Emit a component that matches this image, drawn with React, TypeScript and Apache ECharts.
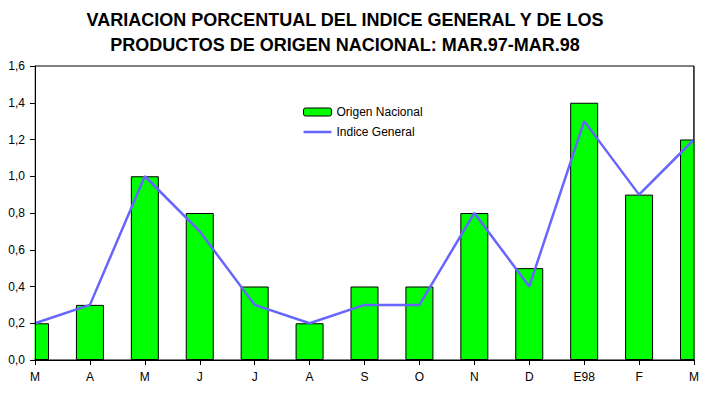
import React, { useEffect, useRef } from "react";
import * as echarts from "echarts";

const categories = ["M", "A", "M", "J", "J", "A", "S", "O", "N", "D", "E98", "F", "M"];
const origenNacional = [0.2, 0.3, 1.0, 0.8, 0.4, 0.2, 0.4, 0.4, 0.8, 0.5, 1.4, 0.9, 1.2];
const indiceGeneral = [0.2, 0.3, 1.0, 0.7, 0.3, 0.2, 0.3, 0.3, 0.8, 0.4, 1.3, 0.9, 1.2];
const titleLines = [
  "VARIACION PORCENTUAL DEL INDICE GENERAL Y DE LOS",
  "PRODUCTOS DE ORIGEN NACIONAL: MAR.97-MAR.98",
];

const FONT = "'Liberation Sans', Arial, sans-serif";

export default function App() {
  const ref = useRef<HTMLDivElement>(null);
  useEffect(() => {
    if (!ref.current) return;
    const chart = echarts.init(ref.current, null, { renderer: "svg" });
    const gLeft = 35, gRight = 18, gTop = 66, gBottom = 35, W = 712, H = 395;
    chart.setOption({
      animation: false,
      backgroundColor: "#ffffff",
      textStyle: { fontFamily: FONT },
      graphic: [
        ...titleLines.map((t, i) => ({
          type: "text",
          x: 345,
          y: 11 + i * 25,
          z: 10,
          style: {
            text: t,
            fill: "#000",
            font: `bold 18px ${FONT}`,
            textAlign: "center",
            textVerticalAlign: "top",
          },
        })),
        // mask bar overflow outside the plot area
        {
          type: "rect",
          z: 5,
          shape: { x: 0, y: gTop - 2, width: gLeft - 0.5, height: H - gTop - gBottom + 2 },
          style: { fill: "#ffffff" },
        },
        {
          type: "rect",
          z: 5,
          shape: { x: W - gRight + 0.5, y: gTop - 2, width: gRight, height: H - gTop - gBottom + 2 },
          style: { fill: "#ffffff" },
        },
        {
          type: "line",
          z: 6,
          shape: { x1: W - gRight, y1: gTop, x2: W - gRight, y2: H - gBottom },
          style: { stroke: "#000", lineWidth: 1 },
        },
      ],
      grid: {
        left: gLeft,
        right: gRight,
        top: gTop,
        bottom: gBottom,
        show: true,
        borderColor: "#000",
        borderWidth: 1,
        backgroundColor: "transparent",
      },
      legend: {
        orient: "vertical",
        left: 298,
        top: 101,
        itemWidth: 28,
        itemHeight: 8,
        itemGap: 8,
        textStyle: { fontSize: 12, color: "#000", fontFamily: FONT },
        data: [
          { name: "Origen Nacional", itemStyle: { color: "#00ff00", borderColor: "#000", borderWidth: 1 } },
          {
            name: "Indice General",
            icon: "path://M0,0 L28,0 L28,2.5 L0,2.5 Z",
            itemStyle: { color: "#6666ff", borderWidth: 0 },
          },
        ],
      },
      xAxis: {
        type: "category",
        data: categories,
        boundaryGap: false,
        z: 8,
        axisLine: { show: true, lineStyle: { color: "#000", width: 1 } },
        axisTick: { show: true, length: 5, lineStyle: { color: "#000" }, alignWithLabel: true },
        axisLabel: { color: "#000", fontSize: 12, margin: 11, interval: 0, fontFamily: FONT },
        splitLine: { show: false },
      },
      yAxis: {
        type: "value",
        min: 0,
        max: 1.6,
        interval: 0.2,
        z: 8,
        axisLine: { show: true, lineStyle: { color: "#000", width: 1 } },
        axisTick: { show: true, length: 5, lineStyle: { color: "#000" } },
        axisLabel: {
          color: "#000",
          fontSize: 12,
          margin: 10,
          fontFamily: FONT,
          formatter: (v: number) => v.toFixed(1).replace(".", ","),
        },
        splitLine: { show: false },
      },
      series: [
        {
          name: "Origen Nacional",
          type: "bar",
          data: origenNacional,
          barWidth: 28,
          itemStyle: { color: "#00ff00", borderColor: "#000", borderWidth: 1 },
        },
        {
          name: "Indice General",
          type: "line",
          data: indiceGeneral,
          symbol: "none",
          z: 3,
          lineStyle: { color: "#6666ff", width: 2.5 },
          itemStyle: { color: "#6666ff" },
        },
      ],
    });
    return () => chart.dispose();
  }, []);
  return (
    <div
      ref={ref}
      style={{ position: "absolute", left: 0, top: 0, width: 712, height: 395, background: "#fff" }}
    />
  );
}
